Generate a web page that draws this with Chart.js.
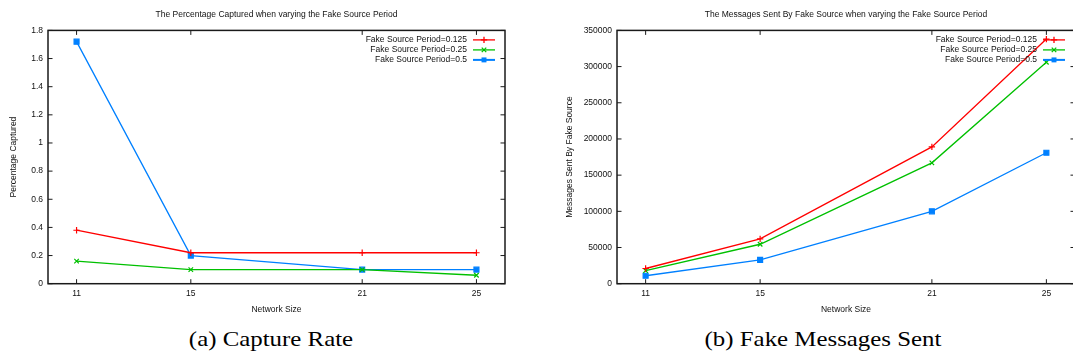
<!DOCTYPE html>
<html>
<head>
<meta charset="utf-8">
<script src="https://cdn.jsdelivr.net/npm/chart.js@4.4.0/dist/chart.umd.min.js"></script>
<style>
  html, body { margin: 0; padding: 0; background: #fff; width: 1073px; height: 358px; overflow: hidden; }
  .box { position: absolute; top: 0; height: 320px; }
  #boxA { left: 0; width: 540px; }
  #boxB { left: 540px; width: 560px; }
  .caption { position: absolute; top: 326px; font-family: "Liberation Serif", "DejaVu Serif", serif; font-size: 22px; line-height: 26px; color: #000; transform: translateX(-50%) scaleX(1.13); white-space: nowrap; }
</style>
</head>
<body>
<div class="box" id="boxA"><canvas id="capture"></canvas></div>
<div class="box" id="boxB"><canvas id="messages"></canvas></div>
<div class="caption" style="left:271px">(a) Capture Rate</div>
<div class="caption" style="left:823px">(b) Fake Messages Sent</div>
<script>
// values
const networkSizes = [11, 15, 21, 25];
const periodLabels = ['Fake Source Period=0.125', 'Fake Source Period=0.25', 'Fake Source Period=0.5'];

const captured0125 = [0.38, 0.22, 0.22, 0.22];
const captured025 = [0.16, 0.10, 0.10, 0.06];
const captured05 = [1.72, 0.20, 0.10, 0.10];

const sent0125 = [21000, 62000, 189000, 338000];
const sent025 = [18000, 54500, 167000, 306000];
const sent05 = [11000, 33000, 100000, 181000];

const capturedTicks = [0, 0.2, 0.4, 0.6, 0.8, 1, 1.2, 1.4, 1.6, 1.8];
const sentTicks = [0, 50000, 100000, 150000, 200000, 250000, 300000, 350000];

const RED = 'rgb(255,0,0)';
const GREEN = 'rgb(0,192,0)';
const BLUE = 'rgb(0,128,255)';
const styles = [
    { color: RED, point: 'cross' },
    { color: GREEN, point: 'crossRot' },
    { color: BLUE, point: 'rect' }
];

const FONT_SIZE = 8.5;
Chart.defaults.font.family = '"Liberation Sans", Arial, sans-serif';
Chart.defaults.font.size = FONT_SIZE;
Chart.defaults.color = '#111';

function toPoints(values) {
    return values.map((v, i) => ({ x: networkSizes[i], y: v }));
}

function makeDatasets(seriesList) {
    return seriesList.map((values, i) => ({
        label: periodLabels[i],
        data: toPoints(values),
        borderColor: styles[i].color,
        backgroundColor: styles[i].color,
        borderWidth: 1.3,
        pointStyle: styles[i].point,
        pointRadius: styles[i].point === 'rect' ? 3.5 : 3.2,
        pointBorderWidth: 1.2,
        pointBorderColor: styles[i].color,
        pointBackgroundColor: styles[i].color,
        fill: false,
        tension: 0
    }));
}

// gnuplot style border with inward ticks on all four sides
const gnuplotFrame = {
    id: 'gnuplotFrame',
    afterDatasetsDraw(chart) {
        const { ctx, chartArea: a } = chart;
        const x = chart.scales.x, y = chart.scales.y;
        ctx.save();
        ctx.strokeStyle = '#1a1a1a';
        ctx.lineWidth = 1.5;
        ctx.strokeRect(a.left, a.top, a.right - a.left, a.bottom - a.top);
        ctx.lineWidth = 1;
        ctx.beginPath();
        x.ticks.forEach(t => {
            const px = x.getPixelForValue(t.value);
            ctx.moveTo(px, a.bottom); ctx.lineTo(px, a.bottom - 4.5);
            ctx.moveTo(px, a.top); ctx.lineTo(px, a.top + 4.5);
        });
        y.ticks.forEach(t => {
            const py = y.getPixelForValue(t.value);
            ctx.moveTo(a.left, py); ctx.lineTo(a.left + 4.5, py);
            ctx.moveTo(a.right, py); ctx.lineTo(a.right - 4.5, py);
        });
        ctx.stroke();
        ctx.restore();
    }
};

function drawMarker(ctx, style, cx, cy) {
    const r = 3.2;
    ctx.beginPath();
    if (style === 'cross') {
        ctx.moveTo(cx - r, cy); ctx.lineTo(cx + r, cy);
        ctx.moveTo(cx, cy - r); ctx.lineTo(cx, cy + r);
        ctx.stroke();
    } else if (style === 'crossRot') {
        const d = r * Math.SQRT1_2;
        ctx.moveTo(cx - d, cy - d); ctx.lineTo(cx + d, cy + d);
        ctx.moveTo(cx - d, cy + d); ctx.lineTo(cx + d, cy - d);
        ctx.stroke();
    } else {
        const s = 3.5 * Math.SQRT1_2;
        ctx.fillRect(cx - s, cy - s, 2 * s, 2 * s);
    }
}

// key in the top right corner: text, then line sample with marker
const gnuplotKey = {
    id: 'gnuplotKey',
    afterDraw(chart) {
        const { ctx, chartArea: a } = chart;
        ctx.save();
        ctx.font = FONT_SIZE + 'px "Liberation Sans", Arial, sans-serif';
        ctx.textAlign = 'right';
        ctx.textBaseline = 'middle';
        chart.data.datasets.forEach((ds, i) => {
            const yy = a.top + 9.5 + i * 10;
            ctx.fillStyle = '#111';
            ctx.fillText(ds.label, a.right - 38, yy);
            ctx.strokeStyle = ds.borderColor;
            ctx.fillStyle = ds.borderColor;
            ctx.lineWidth = ds.pointStyle === 'rect' ? 2 : 1.3;
            ctx.beginPath();
            ctx.moveTo(a.right - 32, yy);
            ctx.lineTo(a.right - 10, yy);
            ctx.stroke();
            ctx.lineWidth = 1.3;
            drawMarker(ctx, ds.pointStyle, a.right - 21, yy);
        });
        ctx.restore();
    }
};

function makeChart(canvasId, opts) {
    return new Chart(document.getElementById(canvasId), {
        type: 'line',
        data: { datasets: makeDatasets(opts.series) },
        options: {
            responsive: true,
            maintainAspectRatio: false,
            animation: false,
            layout: { padding: { left: 0, right: opts.padRight, top: 0, bottom: 0 } },
            plugins: {
                legend: { display: false },
                tooltip: { enabled: false },
                title: {
                    display: true,
                    text: opts.title,
                    fullSize: false,
                    color: '#111',
                    font: { size: FONT_SIZE, weight: 'normal' },
                    padding: { top: 9.6, bottom: 10.6 }
                }
            },
            scales: {
                x: {
                    type: 'linear',
                    min: 10,
                    max: 26,
                    grid: { display: false, drawTicks: false },
                    border: { display: false },
                    afterBuildTicks: (scale) => { scale.ticks = networkSizes.map(v => ({ value: v })); },
                    afterFit: (scale) => { scale.height = 36.3; },
                    ticks: { padding: 5, color: '#111' },
                    title: { display: true, text: 'Network Size', color: '#111', padding: { top: 0, bottom: 5.6 } }
                },
                y: {
                    type: 'linear',
                    min: 0,
                    max: opts.yMax,
                    grid: { display: false, drawTicks: false },
                    border: { display: false },
                    afterBuildTicks: (scale) => { scale.ticks = opts.yTicks.map(v => ({ value: v })); },
                    afterFit: (scale) => { scale.width = opts.yWidth; },
                    ticks: { padding: 5, color: '#111', callback: (v) => String(v) },
                    title: { display: true, text: opts.yTitle, color: '#111', padding: { top: opts.yTitlePad, bottom: 0 } }
                }
            }
        },
        plugins: [gnuplotFrame, gnuplotKey]
    });
}

makeChart('capture', {
    series: [captured0125, captured025, captured05],
    title: 'The Percentage Captured when varying the Fake Source Period',
    yTitle: 'Percentage Captured',
    yMax: 1.8,
    yTicks: capturedTicks,
    yWidth: 48,
    yTitlePad: 8.8,
    padRight: 35
});

makeChart('messages', {
    series: [sent0125, sent025, sent05],
    title: 'The Messages Sent By Fake Source when varying the Fake Source Period',
    yTitle: 'Messages Sent By Fake Source',
    yMax: 350000,
    yTicks: sentTicks,
    yWidth: 77,
    yTitlePad: 24.8,
    padRight: 25
});
</script>
</body>
</html>
